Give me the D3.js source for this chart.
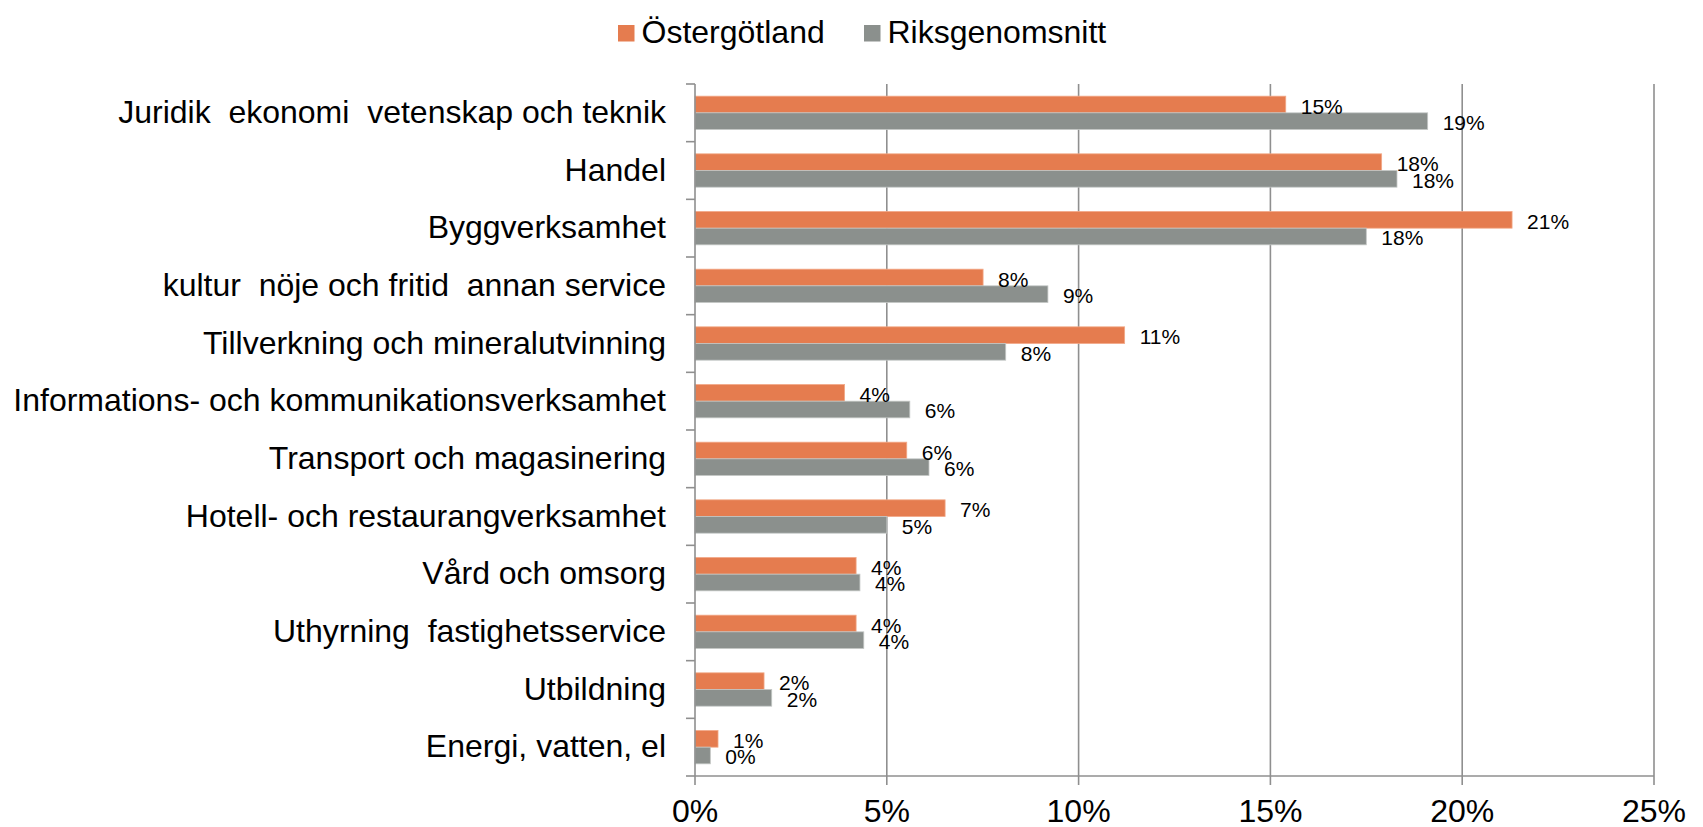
<!DOCTYPE html>
<html>
<head>
  <meta charset="utf-8">
  <title>Östergötland jämfört med riksgenomsnittet</title>
  <script src="https://d3js.org/d3.v7.min.js"></script>
  <style>
    body { margin: 0; background: #fff; }
    svg text { font-family: "Liberation Sans", Arial, sans-serif; fill: #000; white-space: pre; }
  </style>
</head>
<body>
<script>
  // Data (percent)
  var categories = [
    "Juridik  ekonomi  vetenskap och teknik",
    "Handel",
    "Byggverksamhet",
    "kultur  nöje och fritid  annan service",
    "Tillverkning och mineralutvinning",
    "Informations- och kommunikationsverksamhet",
    "Transport och magasinering",
    "Hotell- och restaurangverksamhet",
    "Vård och omsorg",
    "Uthyrning  fastighetsservice",
    "Utbildning",
    "Energi, vatten, el"
  ];
  var seriesNames = ["Östergötland", "Riksgenomsnitt"];
  var ostergotland = [15.4, 17.9, 21.3, 7.51, 11.2, 3.9, 5.52, 6.52, 4.2, 4.2, 1.8, 0.6];
  var riksgenomsnitt = [19.1, 18.3, 17.5, 9.2, 8.1, 5.6, 6.1, 5.0, 4.3, 4.4, 2.0, 0.4];
  var xTicks = [0, 5, 10, 15, 20, 25];
  var colors = ["#e57c4f", "#8b908d"];

  // (don't use "top" as a name, it's window.top)
  var W = 1703, H = 827;
  var plotLeft = 695, plotRight = 1654, plotTop = 84, plotBottom = 776;

  var svg = d3.select("body").append("svg")
    .attr("width", W)
    .attr("height", H);

  var x = d3.scaleLinear().domain([0, 25]).range([plotLeft, plotRight]);
  var y = d3.scaleBand().domain(categories).range([plotTop, plotBottom]);
  var ySub = d3.scaleBand().domain(seriesNames).range([0, y.bandwidth()]).paddingOuter(0.73);

  // vertical gridlines
  svg.append("g").selectAll("line")
    .data(xTicks.slice(1))
    .join("line")
      .attr("x1", d => x(d)).attr("x2", d => x(d))
      .attr("y1", plotTop).attr("y2", plotBottom)
      .attr("stroke", "#8f8f8f")
      .attr("stroke-width", 1.6);

  // bars
  var rows = categories.map((c, i) => ({cat: c, vals: [ostergotland[i], riksgenomsnitt[i]]}));
  var groups = svg.append("g").selectAll("g")
    .data(rows)
    .join("g")
      .attr("transform", d => "translate(0," + y(d.cat) + ")");

  groups.selectAll("rect")
    .data(d => d.vals.map((v, k) => ({name: seriesNames[k], v: v, k: k})))
    .join("rect")
      .attr("x", x(0))
      .attr("y", d => ySub(d.name))
      .attr("width", d => x(d.v) - x(0))
      .attr("height", ySub.bandwidth())
      .attr("fill", d => colors[d.k])
      .attr("stroke", d => d.k == 0 ? "#f2a988" : "#c4c7c5")
      .attr("stroke-width", 0.8);

  // data labels
  groups.selectAll("text")
    .data(d => d.vals.map((v, k) => ({name: seriesNames[k], v: v})))
    .join("text")
      .attr("x", d => x(d.v) + 15)
      .attr("y", d => ySub(d.name) + ySub.bandwidth() / 2 + 9)
      .style("font-size", "21px")
      .text(d => Math.round(d.v) + "%");

  // axes lines and ticks
  var axisColor = "#8f8f8f";
  svg.append("line")
    .attr("x1", x(0)).attr("x2", x(0))
    .attr("y1", plotTop).attr("y2", plotBottom)
    .attr("stroke", axisColor).attr("stroke-width", 1.6);
  svg.append("line")
    .attr("x1", x(0)).attr("x2", plotRight)
    .attr("y1", plotBottom).attr("y2", plotBottom)
    .attr("stroke", axisColor).attr("stroke-width", 1.6);

  var yTickPos = categories.map(c => y(c)).concat([plotBottom]);
  svg.append("g").selectAll("line")
    .data(yTickPos)
    .join("line")
      .attr("x1", x(0) - 9).attr("x2", x(0))
      .attr("y1", d => d).attr("y2", d => d)
      .attr("stroke", axisColor).attr("stroke-width", 1.6);

  svg.append("g").selectAll("line")
    .data(xTicks)
    .join("line")
      .attr("x1", d => x(d)).attr("x2", d => x(d))
      .attr("y1", plotBottom).attr("y2", plotBottom + 9)
      .attr("stroke", axisColor).attr("stroke-width", 1.6);

  // x tick labels
  svg.append("g").selectAll("text")
    .data(xTicks)
    .join("text")
      .attr("x", d => x(d))
      .attr("y", 822)
      .attr("text-anchor", "middle")
      .style("font-size", "32px")
      .text(d => d + "%");

  // category labels
  svg.append("g").selectAll("text")
    .data(categories)
    .join("text")
      .attr("x", 666)
      .attr("y", d => y(d) + y.bandwidth() / 2 + 10)
      .attr("text-anchor", "end")
      .style("font-size", "32px")
      .text(d => d);

  // legend
  var legendX = [618, 864];
  var legend = svg.append("g").selectAll("g")
    .data(seriesNames)
    .join("g")
      .attr("transform", (d, i) => "translate(" + legendX[i] + ",0)");
  legend.append("rect")
    .attr("x", 0).attr("y", 25)
    .attr("width", 16.5).attr("height", 16.5)
    .attr("fill", (d, i) => colors[i]);
  legend.append("text")
    .attr("x", 23.5).attr("y", 42.5)
    .style("font-size", "32px")
    .text(d => d);
</script>
</body>
</html>
